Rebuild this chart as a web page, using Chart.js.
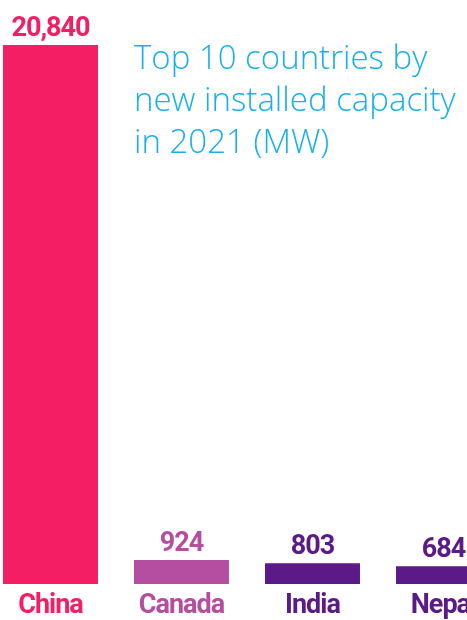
<!DOCTYPE html>
<html>
<head>
<meta charset="utf-8">
<script src="https://cdn.jsdelivr.net/npm/chart.js@4/dist/chart.umd.min.js"></script>
<style>
  html, body { margin: 0; padding: 0; background: #fff; overflow: hidden; }
  #frame { position: relative; width: 467px; height: 620px; overflow: hidden; }
  #wrap { position: absolute; left: -15px; top: 0; width: 524px; height: 620px; }
</style>
</head>
<body>
<div id="frame"><div id="wrap"><canvas id="chart"></canvas></div></div>
<script>
const countries = ['China', 'Canada', 'India', 'Nepal'];
const capacity = [20840, 924, 803, 684];
const barColors = ['#f41e64', '#b54ea0', '#5b1a87', '#5b1a87'];
const titleLines = ['Top 10 countries by', 'new installed capacity', 'in 2021 (MW)'];

const boldFont = 'Roboto, "Liberation Sans", sans-serif';

// narrow the bold labels a bit, the original uses a condensed face
const tightText = {
  id: 'tightText',
  beforeDraw(chart) {
    chart.ctx.letterSpacing = '-1px';
  }
};

const valueLabels = {
  id: 'valueLabels',
  afterDatasetsDraw(chart) {
    const ctx = chart.ctx;
    const meta = chart.getDatasetMeta(0);
    ctx.save();
    ctx.letterSpacing = '-1px';
    ctx.font = 'bold 27px ' + boldFont;
    ctx.textAlign = 'center';
    ctx.textBaseline = 'alphabetic';
    meta.data.forEach((bar, i) => {
      ctx.fillStyle = barColors[i];
      ctx.fillText(capacity[i].toLocaleString('en-US'), bar.x, bar.y - 9);
    });
    ctx.restore();
  }
};

const cornerTitle = {
  id: 'cornerTitle',
  afterDraw(chart) {
    const ctx = chart.ctx;
    ctx.save();
    ctx.letterSpacing = '0px';
    ctx.font = '300 33px "Open Sans", "Noto Sans", sans-serif';
    ctx.fillStyle = '#17b0ea';
    ctx.textAlign = 'left';
    ctx.textBaseline = 'alphabetic';
    titleLines.forEach((line, i) => {
      ctx.fillText(line, 149, 69 + i * 42);
    });
    ctx.restore();
  }
};

new Chart(document.getElementById('chart'), {
  type: 'bar',
  data: {
    labels: countries,
    datasets: [{
      data: capacity,
      backgroundColor: barColors,
      borderWidth: 0,
      categoryPercentage: 1,
      barPercentage: 0.725
    }]
  },
  options: {
    responsive: true,
    maintainAspectRatio: false,
    animation: false,
    layout: { padding: { top: 45, left: 0, right: 0, bottom: 0 } },
    plugins: {
      legend: { display: false },
      tooltip: { enabled: false },
      title: { display: false }
    },
    scales: {
      x: {
        grid: { display: false, drawTicks: false },
        border: { display: false },
        ticks: {
          color: barColors,
          font: { family: boldFont, size: 27, weight: 'bold', lineHeight: 1 },
          padding: 9,
          maxRotation: 0,
          autoSkip: false
        },
        afterFit(scale) { scale.height = 36; }
      },
      y: {
        display: false,
        min: 0,
        max: Math.max(...capacity)
      }
    }
  },
  plugins: [tightText, valueLabels, cornerTitle]
});
</script>
</body>
</html>
